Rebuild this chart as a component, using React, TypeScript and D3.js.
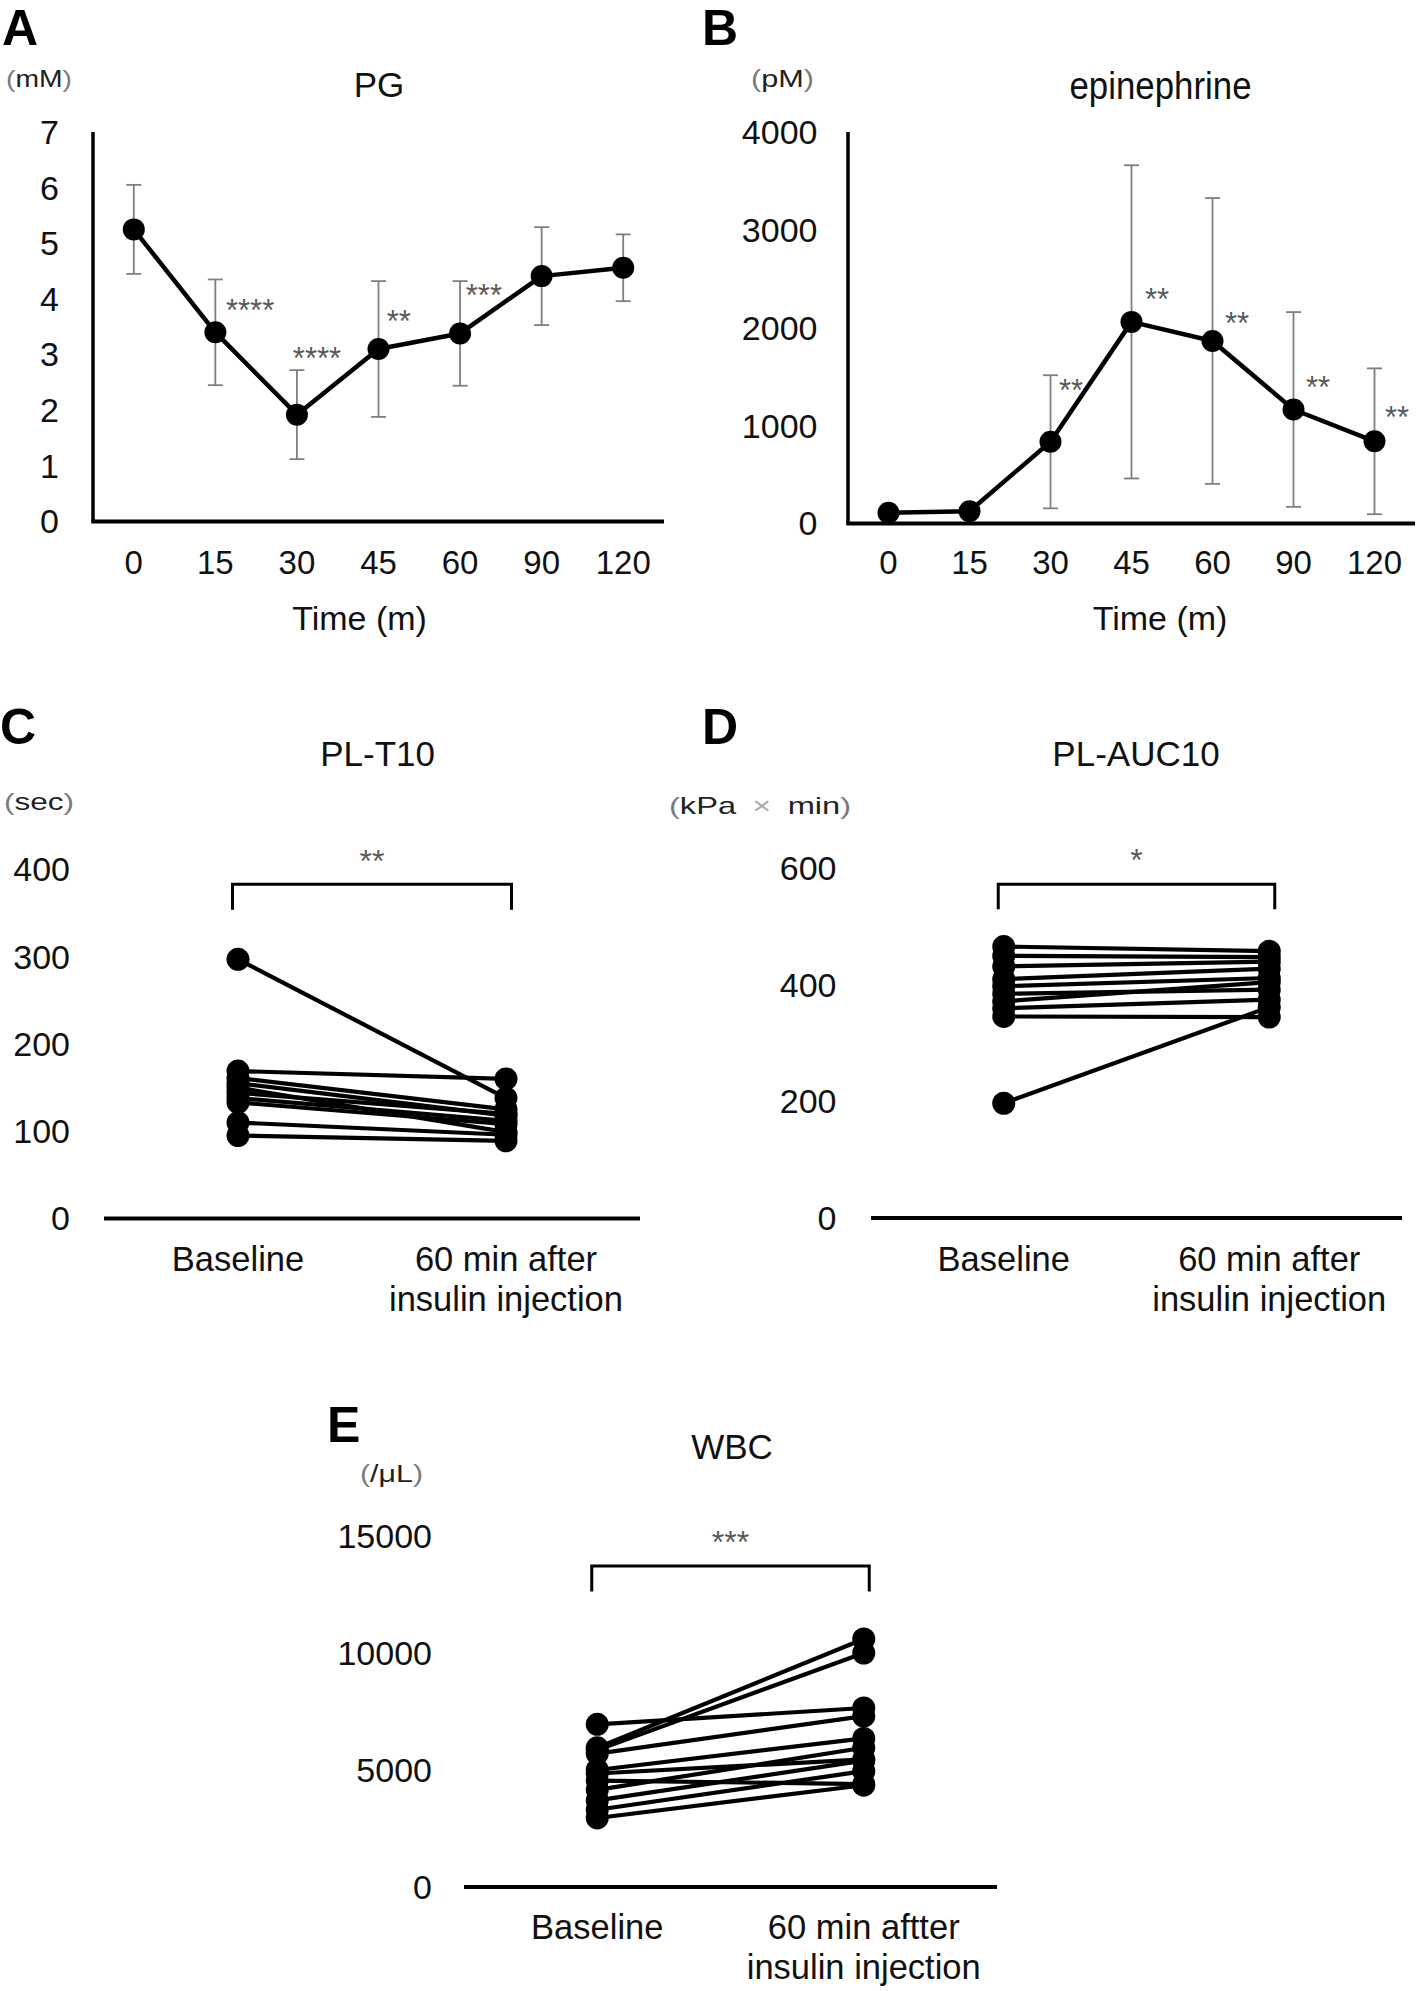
import React, { useLayoutEffect, useRef, useState } from "react";
import * as d3 from "d3";

const FONT = "'Liberation Sans', Arial, 'Noto Sans CJK JP', sans-serif";

// ---------- Panel A: PG ----------
const timeLabels = ["0", "15", "30", "45", "60", "90", "120"];
const pgMean = [5.25, 3.4, 1.92, 3.1, 3.38, 4.41, 4.56];
const pgSD = [0.8, 0.95, 0.8, 1.22, 0.94, 0.88, 0.6];
const pgTicks = [0, 1, 2, 3, 4, 5, 6, 7];
const pgStarText = ["****", "****", "**", "***"];
const pgStarCat = [1.13, 1.95, 3.1, 4.07];
const pgStarVal = [3.86, 2.99, 3.65, 4.12];

// ---------- Panel B: epinephrine ----------
const epiMean = [110, 125, 835, 2060, 1865, 1165, 840];
const epiSD = [60, 70, 680, 1600, 1460, 995, 745];
const epiTicks = [0, 1000, 2000, 3000, 4000];
const epiStarText = ["**", "**", "**", "**", "**"];
const epiStarCat = [2.105, 3.167, 4.154, 5.154, 6.13];
const epiStarVal = [1392, 2322, 2077, 1421, 1118];

// ---------- Paired panels ----------
const pairCats = ["Baseline", "60 min after"];
const pairCatLines = [["Baseline"], ["60 min after", "insulin injection"]];
const pairCatLinesE = [["Baseline"], ["60 min aftter", "insulin injection"]];

// C: PL-T10 (sec)
const t10Base = [297, 169, 161, 155, 150, 144, 138, 133, 110, 95];
const t10After = [138, 160, 125, 118, 99, 120, 112, 108, 96, 89];
const t10Ticks = [0, 100, 200, 300, 400];
const t10Bracket = [354, 383];
const t10Star = "**";
const t10StarVal = 414;

// D: PL-AUC10 (kPa x min)
const aucBase = [466, 450, 432, 410, 398, 385, 372, 360, 346, 197];
const aucAfter = [458, 448, 440, 428, 412, 392, 405, 375, 345, 362];
const aucTicks = [0, 200, 400, 600];
const aucBracket = [530, 573];
const aucStar = "*";
const aucStarVal = 620;

// E: WBC (/uL)
const wbcBase = [6950, 5950, 5850, 5700, 5000, 4850, 4550, 4150, 3700, 3300, 2950];
const wbcAfter = [7650, 10600, 10000, 7300, 6350, 5450, 4400, 5950, 5400, 4950, 4350];
const wbcTicks = [0, 5000, 10000, 15000];
const wbcBracket = [12632, 13718];
const wbcStar = "***";
const wbcStarVal = 14872;

const STAR_COLOR = "#595959";
const ERR_COLOR = "#7f7f7f";
const PAREN = "#7a7a7a";

function Unit(props: { x: number; y: number; w: number; children: React.ReactNode }) {
  const ref = useRef<SVGTextElement>(null);
  const [s, setS] = useState(1.2);
  useLayoutEffect(() => {
    if (ref.current) {
      const L = ref.current.getComputedTextLength();
      if (L > 0) setS(props.w / L);
    }
  }, [props.w]);
  return (
    <g transform={`translate(${props.x},${props.y}) scale(${s},1)`}>
      <text ref={ref} x={0} y={0} dy="0.35em" fontSize={24} fill="#222">
        <tspan fill={PAREN}>(</tspan>
        {props.children}
        <tspan fill={PAREN}>)</tspan>
      </text>
    </g>
  );
}

type TimeCfg = {
  letter: string; letterX: number; letterY: number;
  title: string; titleX: number; titleY: number; titleSize: number; titleLen?: number;
  unit: React.ReactNode;
  xl: number; xr: number; yb: number; yt: number; yMax: number;
  ticks: number[]; tickRight: number;
  mean: number[]; sd: number[];
  starText: string[]; starCat: number[]; starVal: number[];
  axisTitleX: number; axisTitleY: number; xLabelY: number;
};

function TimePanel(p: TimeCfg) {
  const x = d3.scaleBand<string>().domain(timeLabels).range([p.xl, p.xr]).padding(0);
  const y = d3.scaleLinear().domain([0, p.yMax]).range([p.yb, p.yt]);
  const cx = (i: number) => (x(timeLabels[0]) as number) + x.bandwidth() / 2 + i * x.step();
  const path = d3.line<number>().x((_, i) => cx(i)).y((d) => y(d))(p.mean) || "";
  return (
    <g>
      <text x={p.letterX} y={p.letterY} fontSize={50} fontWeight="bold" fontFamily="'Liberation Sans', Arial, sans-serif">{p.letter}</text>
      <text x={p.titleX} y={p.titleY} fontSize={p.titleSize} textAnchor="middle" fill="#111"
        {...(p.titleLen ? { textLength: p.titleLen, lengthAdjust: "spacingAndGlyphs" } : {})}>{p.title}</text>
      {p.unit}
      {/* axes */}
      <line x1={p.xl} x2={p.xl} y1={p.yt} y2={p.yb} stroke="#000" strokeWidth={3.5} />
      <line x1={p.xl - 1.75} x2={p.xr} y1={p.yb} y2={p.yb} stroke="#000" strokeWidth={4} />
      {p.ticks.map((t) => (
        <text key={t} x={p.tickRight} y={y(t)} dy="0.35em" fontSize={34} textAnchor="end" fill="#111">{t}</text>
      ))}
      {timeLabels.map((c, i) => (
        <text key={c} x={cx(i)} y={p.xLabelY} dy="0.35em" fontSize={33} textAnchor="middle" fill="#111">{c}</text>
      ))}
      <text x={p.axisTitleX} y={p.axisTitleY} dy="0.35em" fontSize={34} textAnchor="middle" fill="#111">Time (m)</text>
      {/* error bars */}
      {p.mean.map((m, i) => {
        const top = y(m + p.sd[i]);
        const bot = y(Math.max(0, m - p.sd[i]));
        return (
          <g key={i} stroke={ERR_COLOR} strokeWidth={1.8}>
            <line x1={cx(i)} x2={cx(i)} y1={top} y2={bot} />
            <line x1={cx(i) - 7.5} x2={cx(i) + 7.5} y1={top} y2={top} />
            <line x1={cx(i) - 7.5} x2={cx(i) + 7.5} y1={bot} y2={bot} />
          </g>
        );
      })}
      <path d={path} fill="none" stroke="#000" strokeWidth={4.5} strokeLinejoin="round" />
      {p.mean.map((m, i) => (
        <circle key={i} cx={cx(i)} cy={y(m)} r={11} fill="#000" />
      ))}
      {p.starText.map((s, i) => (
        <text key={i} x={cx(p.starCat[i])} y={y(p.starVal[i])} dy="0.45em" fontSize={31} fill={STAR_COLOR}>{s}</text>
      ))}
    </g>
  );
}

type PairCfg = {
  letter: string; letterX: number; letterY: number;
  title: string; titleX: number; titleY: number;
  unit: React.ReactNode;
  xl: number; xr: number; yb: number; yt: number; yMax: number;
  ticks: number[]; tickRight: number;
  base: number[]; after: number[];
  bracket: number[]; star: string; starVal: number;
  catLines: string[][]; catY: number;
};

function PairPanel(p: PairCfg) {
  const x = d3.scaleBand<string>().domain(pairCats).range([p.xl, p.xr]).padding(0);
  const y = d3.scaleLinear().domain([0, p.yMax]).range([p.yb, p.yt]);
  const cx = (i: number) => (x(pairCats[i]) as number) + x.bandwidth() / 2;
  const line = d3.line<[number, number]>().x((d) => d[0]).y((d) => d[1]);
  const bx0 = cx(0) - 5.5;
  const bx1 = cx(1) + 5.5;
  const by = y(p.bracket[1]);
  const byl = y(p.bracket[0]);
  return (
    <g>
      <text x={p.letterX} y={p.letterY} fontSize={50} fontWeight="bold" fontFamily="'Liberation Sans', Arial, sans-serif">{p.letter}</text>
      <text x={p.titleX} y={p.titleY} fontSize={35} textAnchor="middle" fill="#111">{p.title}</text>
      {p.unit}
      <line x1={p.xl} x2={p.xr} y1={p.yb} y2={p.yb} stroke="#000" strokeWidth={4} />
      {p.ticks.map((t) => (
        <text key={t} x={p.tickRight} y={y(t)} dy="0.35em" fontSize={34} textAnchor="end" fill="#111">{t}</text>
      ))}
      {p.catLines.map((lines, i) =>
        lines.map((l, j) => (
          <text key={i + "-" + j} x={cx(i)} y={p.catY + j * 40} dy="0.35em" fontSize={34.5} textAnchor="middle" fill="#111">{l}</text>
        ))
      )}
      <path d={line([[bx0, byl], [bx0, by], [bx1, by], [bx1, byl]]) || ""} fill="none" stroke="#000" strokeWidth={3} />
      <text x={(cx(0) + cx(1)) / 2} y={y(p.starVal)} dy="0.45em" fontSize={32} textAnchor="middle" fill={STAR_COLOR}>{p.star}</text>
      {p.base.map((b, i) => (
        <path key={"l" + i} d={line([[cx(0), y(b)], [cx(1), y(p.after[i])]]) || ""} fill="none" stroke="#000" strokeWidth={4.2} />
      ))}
      {p.base.map((b, i) => (
        <circle key={"b" + i} cx={cx(0)} cy={y(b)} r={11.5} fill="#000" />
      ))}
      {p.after.map((a, i) => (
        <circle key={"a" + i} cx={cx(1)} cy={y(a)} r={11.5} fill="#000" />
      ))}
    </g>
  );
}

export default function App() {
  const W = 1418;
  const H = 1991;
  return (
    <svg width={W} height={H} style={{ position: "absolute", left: 0, top: 0, background: "#fff" }} fontFamily={FONT}>
      <rect x={0} y={0} width={W} height={H} fill="#fff" />
      <TimePanel
        letter="A" letterX={2} letterY={45}
        title="PG" titleX={379} titleY={97} titleSize={35}
        unit={<Unit x={6} y={79} w={66}>mM</Unit>}
        xl={93} xr={664} yb={521.5} yt={132} yMax={7}
        ticks={pgTicks} tickRight={59}
        mean={pgMean} sd={pgSD}
        starText={pgStarText} starCat={pgStarCat} starVal={pgStarVal}
        axisTitleX={359.5} axisTitleY={618} xLabelY={562}
      />
      <TimePanel
        letter="B" letterX={702} letterY={45}
        title="epinephrine" titleX={1160.5} titleY={99.3} titleSize={38} titleLen={182}
        unit={<Unit x={751} y={79} w={63}>pM</Unit>}
        xl={848} xr={1415} yb={523.5} yt={132} yMax={4000}
        ticks={epiTicks} tickRight={817.5}
        mean={epiMean} sd={epiSD}
        starText={epiStarText} starCat={epiStarCat} starVal={epiStarVal}
        axisTitleX={1160} axisTitleY={618} xLabelY={562}
      />
      <PairPanel
        letter="C" letterX={0} letterY={744}
        title="PL-T10" titleX={377.6} titleY={766}
        unit={<Unit x={4} y={802} w={70}>sec</Unit>}
        xl={104} xr={640} yb={1218.5} yt={869.5} yMax={400}
        ticks={t10Ticks} tickRight={70}
        base={t10Base} after={t10After}
        bracket={t10Bracket} star={t10Star} starVal={t10StarVal}
        catLines={pairCatLines} catY={1258.5}
      />
      <PairPanel
        letter="D" letterX={702} letterY={744}
        title="PL-AUC10" titleX={1136} titleY={766}
        unit={<Unit x={669} y={806} w={182}>kPa{"\u2002"}<tspan fill="#aaa">×</tspan>{"\u2002"}min</Unit>}
        xl={871} xr={1402} yb={1218} yt={868.5} yMax={600}
        ticks={aucTicks} tickRight={836.5}
        base={aucBase} after={aucAfter}
        bracket={aucBracket} star={aucStar} starVal={aucStarVal}
        catLines={pairCatLines} catY={1258.5}
      />
      <PairPanel
        letter="E" letterX={327} letterY={1442}
        title="WBC" titleX={732} titleY={1458.6}
        unit={<Unit x={360} y={1474} w={63}>/μL</Unit>}
        xl={464} xr={997} yb={1887} yt={1536} yMax={15000}
        ticks={wbcTicks} tickRight={432}
        base={wbcBase} after={wbcAfter}
        bracket={wbcBracket} star={wbcStar} starVal={wbcStarVal}
        catLines={pairCatLinesE} catY={1927}
      />
    </svg>
  );
}
